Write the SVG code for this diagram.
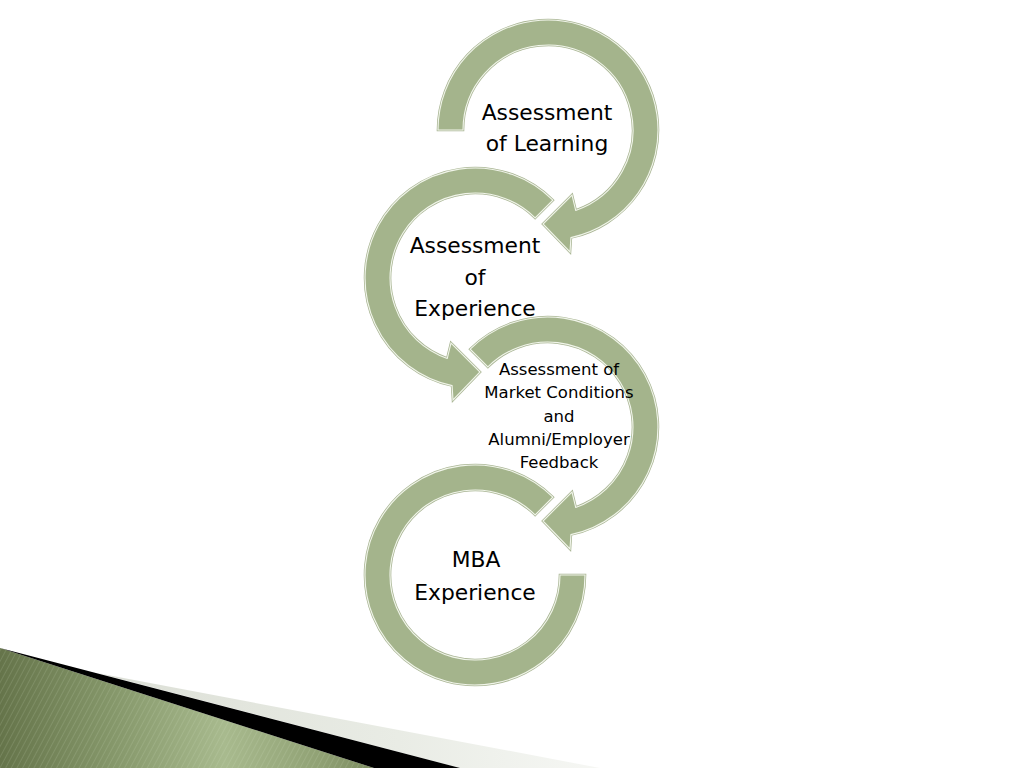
<svg xmlns="http://www.w3.org/2000/svg" width="1024" height="768" viewBox="0 0 1024 768">
  <defs>
    <style>
      .band-edge { fill: #a4b48c; stroke: #a9b594; stroke-width: 2.6; stroke-linejoin: miter; }
      .band { fill: #a4b48c; stroke: #f1f5ea; stroke-width: 1.1; stroke-linejoin: miter; }
      .big { font-family: "DejaVu Sans", Verdana, sans-serif; font-size: 21.8px; fill: #000; text-anchor: middle; }
      .small { font-family: "DejaVu Sans", Verdana, sans-serif; font-size: 16.5px; fill: #000; text-anchor: middle; }
    </style>
    <linearGradient id="greenGrad" x1="0" y1="0" x2="1" y2="0">
      <stop offset="0" stop-color="#65744a"/>
      <stop offset="0.3" stop-color="#85976a"/>
      <stop offset="0.6" stop-color="#a8ba8e"/>
      <stop offset="0.85" stop-color="#91a275"/>
      <stop offset="1" stop-color="#7c8c60"/>
    </linearGradient>
    <linearGradient id="grayGrad" x1="0" y1="0" x2="1" y2="0">
      <stop offset="0" stop-color="#dcdfd6"/>
      <stop offset="0.6" stop-color="#e9ece5"/>
      <stop offset="1" stop-color="#f6f7f4"/>
    </linearGradient>
    <pattern id="stripes" width="5" height="5" patternUnits="userSpaceOnUse" patternTransform="rotate(28)">
      <rect x="0" y="0" width="1" height="5" fill="#dfe9cf" fill-opacity="0.14"/>
    </pattern>
    <path id="arc1" d="M 438 130 A 110 110 0 1 1 570.9 237.6 L 570 252 L 543 224 L 572 195 L 575.7 210.4 A 85 85 0 1 0 463 130 Z"/>
    <path id="arc2" d="M 552.8 200.2 A 110 110 0 1 0 452.1 385.6 L 453 400 L 480 372 L 451 343 L 447.3 358.4 A 85 85 0 1 1 535.1 217.9 Z"/>
    <path id="arc3" d="M 470.2 349.2 A 110 110 0 1 1 570.9 534.6 L 570 549 L 543 521 L 572 492 L 575.7 507.4 A 85 85 0 1 0 487.9 366.9 Z"/>
    <path id="arc4" d="M 552.8 497.2 A 110 110 0 1 0 585 575 L 560 575 A 85 85 0 1 1 535.1 514.9 Z"/>
  </defs>

  <rect x="0" y="0" width="1024" height="768" fill="#ffffff"/>

  <!-- decorative corner -->
  <g id="corner-decoration">
    <polygon points="97,673 600,768 460,768" fill="url(#grayGrad)"/>
    <polygon points="0,648 374,768 0,768" fill="url(#greenGrad)"/>
    <polygon points="0,648 374,768 0,768" fill="url(#stripes)"/>
    <polygon points="0,648 460,768 374,768" fill="#000000"/>
  </g>

  <g id="connectors"></g>

  <g id="node-learning">
    <use href="#arc1" class="band-edge"/>
    <use href="#arc1" class="band"/>
    <text class="big" x="547" y="120">Assessment</text>
    <text class="big" x="547" y="151">of Learning</text>
  </g>

  <g id="node-experience">
    <use href="#arc2" class="band-edge"/>
    <use href="#arc2" class="band"/>
    <text class="big" x="475" y="253">Assessment</text>
    <text class="big" x="475" y="285">of</text>
    <text class="big" x="475" y="316">Experience</text>
  </g>

  <g id="node-market">
    <use href="#arc3" class="band-edge"/>
    <use href="#arc3" class="band"/>
    <text class="small" x="559" y="375">Assessment of</text>
    <text class="small" x="559" y="398">Market Conditions</text>
    <text class="small" x="559" y="421.5">and</text>
    <text class="small" x="559" y="445">Alumni/Employer</text>
    <text class="small" x="559" y="468">Feedback</text>
  </g>

  <g id="node-mba">
    <use href="#arc4" class="band-edge"/>
    <use href="#arc4" class="band"/>
    <text class="big" x="476" y="567">MBA</text>
    <text class="big" x="475" y="600">Experience</text>
  </g>
</svg>
